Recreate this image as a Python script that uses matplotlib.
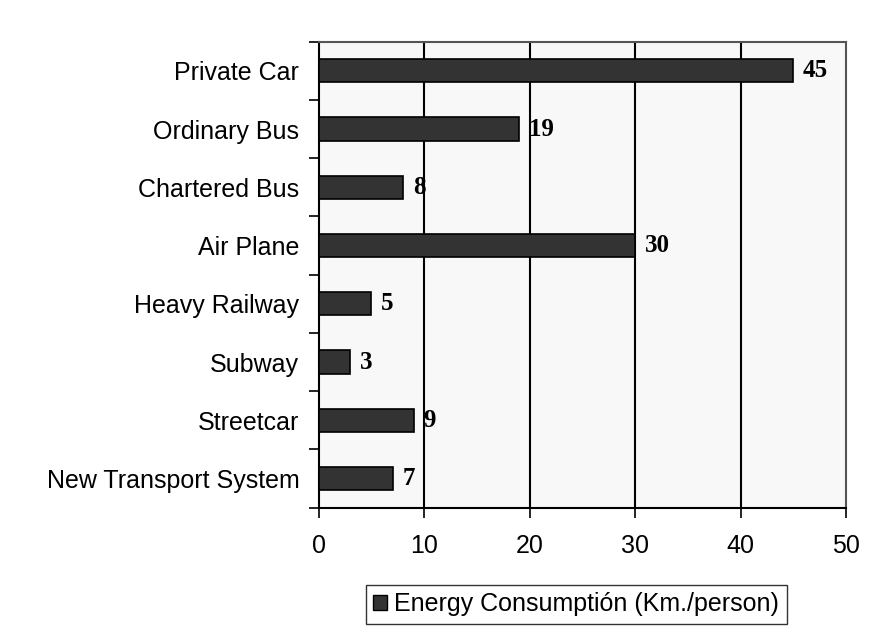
import numpy as np
import matplotlib.pyplot as plt
from matplotlib.patches import Patch

categories = ["Private Car", "Ordinary Bus", "Chartered Bus", "Air Plane",
              "Heavy Railway", "Subway", "Streetcar", "New Transport System"]
values = [45, 19, 8, 30, 5, 3, 9, 7]
x_ticks = [0, 10, 20, 30, 40, 50]
legend_label = "Energy Consumptión (Km./person)"

plt.rcParams['font.family'] = ['Liberation Sans', 'DejaVu Sans']

fig = plt.figure(figsize=(8.77, 6.35), dpi=100)
ax = fig.add_axes([0.3634, 0.2005, 0.6013, 0.7338])
ax.set_facecolor('#f8f8f8')

# top category at top
pos = np.arange(len(categories))[::-1]
ax.barh(pos, values, height=0.4, color='#333333', edgecolor='black',
        linewidth=1.2, zorder=3)

for p, v in zip(pos, values):
    ax.annotate(str(v), (v, p), xytext=(7, 0), textcoords='offset points',
                va='center', ha='left', fontsize=18, fontweight='bold',
                family='Liberation Serif', zorder=4)

ax.set_xlim(0, 50)
ax.set_ylim(-0.5, len(categories) - 0.5)
ax.set_xticks(x_ticks)
ax.set_xticklabels([str(t) for t in x_ticks], fontsize=18)
for t in x_ticks[1:-1]:
    ax.axvline(t, color='black', lw=1.5, zorder=1)

# category labels centered, ticks at the boundaries
ax.set_yticks(pos)
ax.set_yticklabels(categories, fontsize=18)
ax.tick_params(axis='y', length=0, pad=14)
ax.set_yticks(np.arange(-0.5, len(categories), 1.0), minor=True)
ax.tick_params(axis='y', which='minor', length=7, width=1.2, direction='out')
ax.tick_params(axis='x', length=7, width=1.2, direction='out', pad=12)

for s in ['left', 'bottom']:
    ax.spines[s].set_color('black')
    ax.spines[s].set_linewidth(1.5)
for s in ['top', 'right']:
    ax.spines[s].set_color('#555555')
    ax.spines[s].set_linewidth(1.5)

handle = Patch(facecolor='#333333', edgecolor='black', label=legend_label)
fig.legend(handles=[handle], loc='upper left', bbox_to_anchor=(0.417, 0.079),
           fontsize=18, frameon=True, fancybox=False, edgecolor='black',
           handlelength=0.55, handleheight=0.55, handletextpad=0.3,
           borderpad=0.3, borderaxespad=0)

fig.savefig('out.png', dpi=100)
